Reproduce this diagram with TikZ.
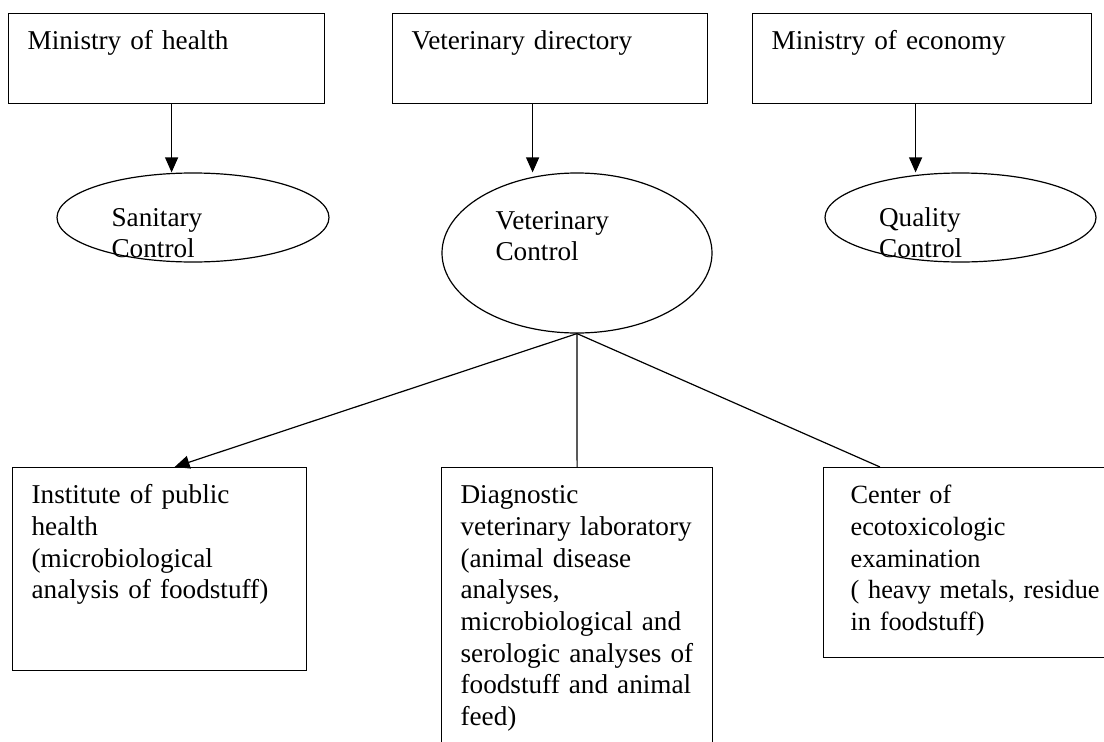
\documentclass[tikz,border=0pt]{standalone}
\usepackage{fontspec}
\setmainfont{Liberation Serif}
\usetikzlibrary{shapes,arrows.meta,positioning}

\begin{document}
\begin{tikzpicture}[x=1pt, y=-1pt, line width=1.2pt,
  >={Triangle[length=15pt, width=13pt]},
  font=\fontsize{27.2}{31.7}\selectfont,
  unit/.style={draw, rectangle, anchor=north west, align=left, inner xsep=19pt, inner ysep=10pt, text height=26pt},
  ctrl/.style={draw, ellipse, inner sep=0pt},
  ctrltext/.style={anchor=base west, inner sep=0pt, text width=130pt, align=left}]
\clip (0,0) rectangle (1104,742);

% ministries
\node[unit, text width=278pt, text depth=44pt] (health) at (8,13) {Ministry of health};
\node[unit, text width=277pt, text depth=44pt] (vetdir) at (392,13) {Veterinary directory};
\node[unit, text width=301pt, text depth=44pt] (economy) at (752,13) {Ministry of economy};

% controls
\node[ctrl, minimum width=272pt, minimum height=89pt] (sanitary) at (193,217.5) {};
\node[ctrltext] (sanitarytext) at ([xshift=-82pt, yshift=-8.5pt]sanitary.center) {Sanitary\\Control};
\node[ctrl, minimum width=270pt, minimum height=160pt] (vetctrl) at (577,253) {};
\node[ctrltext] (vetctrltext) at ([xshift=-82pt, yshift=24pt]vetctrl.center) {Veterinary\\Control};
\node[ctrl, minimum width=271pt, minimum height=89pt] (quality) at (960.5,217.5) {};
\node[ctrltext] (qualitytext) at ([xshift=-82pt, yshift=-8.5pt]quality.center) {Quality\\Control};

% laboratories
\node[unit, text width=256pt, text depth=157pt] (institute) at (12,467) {Institute of public\\
health\\
(microbiological\\
analysis of foodstuff)};
\node[unit, text width=233pt, text depth=254pt] (diagnostic) at (441,467) {Diagnostic\\
veterinary laboratory\\
(animal disease\\
analyses,\\
microbiological and\\
serologic analyses of\\
foodstuff and animal\\
feed)};
\node[unit, inner xsep=27pt, text width=280pt, text depth=144pt,
  font=\fontsize{26.3}{31.7}\selectfont] (ecotox) at (823,467) {Center of\\
ecotoxicologic\\
examination\\
( heavy metals, residue\\
in foodstuff)};

% connections
\draw[->] ([xshift=5pt]health.south) -- ([xshift=5pt]health.south |- sanitary.north);
\draw[->] ([xshift=-17.5pt]vetdir.south) -- ([xshift=-17.5pt]vetdir.south |- vetctrl.north);
\draw[->] ([xshift=-6.5pt]economy.south) -- ([xshift=-6.5pt]economy.south |- quality.north);
\draw[->] (vetctrl.south) -- ([xshift=15pt]institute.north);
\draw (vetctrl.south) -- (diagnostic.north);
\draw (vetctrl.south) -- ([xshift=57pt]ecotox.north west);
\end{tikzpicture}
\end{document}
